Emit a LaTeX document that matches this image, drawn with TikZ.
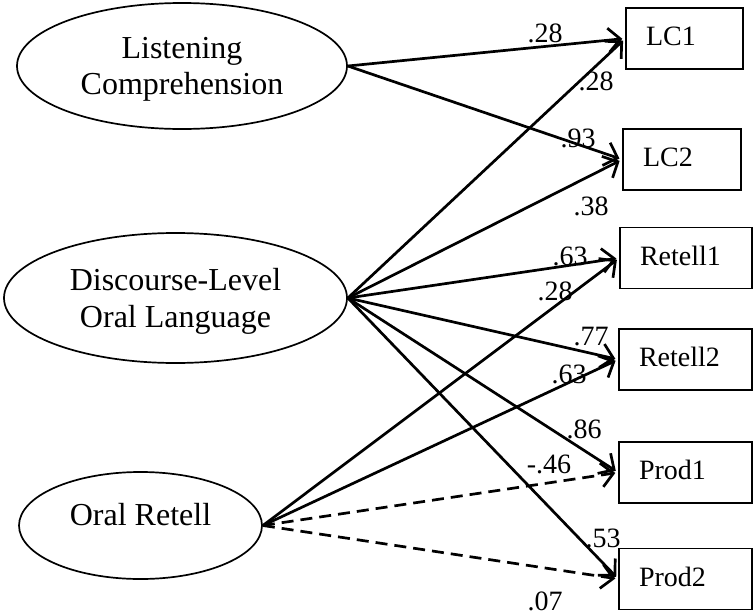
\documentclass[tikz,border=0pt]{standalone}
\usepackage{fontspec}
\setmainfont{Liberation Serif}
\usetikzlibrary{shapes.geometric,arrows.meta}
\begin{document}
\begin{tikzpicture}[x=1pt,y=-1pt,
  lat/.style={draw, ellipse, line width=1.7pt, inner sep=0pt, align=center,
    font=\fontsize{32}{36.5}\selectfont, text depth=0pt},
  obs/.style={draw, rectangle, line width=1.4pt, inner xsep=20pt, inner ysep=0pt,
    minimum height=61pt, align=left, font=\fontsize{28}{32}\selectfont,
    text height=19pt, text depth=5pt},
  lab/.style={anchor=base, inner sep=0pt, font=\fontsize{28}{32}\selectfont},
  load/.style={line width=2.7pt, -{Straight Barb[length=12pt,width=24pt]}, shorten >=3pt},
  dashload/.style={load, dash pattern=on 12pt off 7pt}
]
\useasboundingbox (0,0) rectangle (753,616);

% latent variables
\node[lat, minimum width=330pt, minimum height=126pt] (LC) at (182,66) {Listening\\Comprehension};
\node[lat, minimum width=343pt, minimum height=130pt] (DL) at (175.5,298) {Discourse-Level\\Oral Language};
\node[lat, minimum width=243pt, minimum height=107pt, text height=22pt, text depth=22pt] (OR) at (140.5,525.5) {Oral Retell};

% observed variables
\node[obs, text width=77pt] (LC1) at (684.5,38.5) {LC1};
\node[obs, text width=78pt] (LC2) at (682,159.5) {LC2};
\node[obs, text width=92pt] (R1) at (686,258) {Retell1};
\node[obs, text width=93pt] (R2) at (685.5,359.5) {Retell2};
\node[obs, text width=93pt] (P1) at (685.5,472.5) {Prod1};
\node[obs, text width=93pt] (P2) at (685.5,579) {Prod2};

% loadings
\draw[load] (LC.east) -- (LC1.west);
\draw[load] (LC.east) -- (LC2.west);
\draw[load] (DL.east) -- (LC1.west);
\draw[load] (DL.east) -- (LC2.west);
\draw[load] (DL.east) -- (R1.west);
\draw[load] (DL.east) -- (R2.west);
\draw[load] (DL.east) -- (P1.west);
\draw[load] (DL.east) -- (P2.west);
\draw[load] (OR.east) -- (R1.west);
\draw[load] (OR.east) -- (R2.west);
\draw[dashload] (OR.east) -- (P1.west);
\draw[dashload] (OR.east) -- (P2.west);

% labels
\node[lab] (t1) at (545,42) {.28};
\node[lab] (t2) at (596,90) {.28};
\node[lab] (t3) at (578,147) {.93};
\node[lab] (t4) at (591,215) {.38};
\node[lab] (t5) at (570,265) {.63};
\node[lab] (t6) at (555,300) {.28};
\node[lab] (t7) at (591,345) {.77};
\node[lab] (t8) at (569,383) {.63};
\node[lab] (t9) at (584,438) {.86};
\node[lab] (t10) at (549,473) {-.46};
\node[lab] (t11) at (603,547) {.53};
\node[lab] (t12) at (545,610) {.07};
\end{tikzpicture}
\end{document}
